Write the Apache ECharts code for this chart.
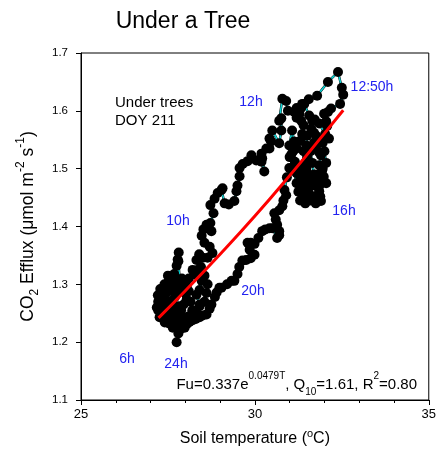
<!DOCTYPE html>
<html><head><meta charset="utf-8">
<script src="https://cdn.jsdelivr.net/npm/echarts@6/dist/echarts.min.js"></script>
<style>html,body{margin:0;padding:0;background:#fff}#c{width:439px;height:455px}</style>
</head><body><div id="c"></div>
<script>
// Soil temperature (°C) in measurement order, starting at 12:50h
const soilTemp = [
 32.54,32.45,32.19,32.10,31.99,32.05,32.08,32.13,32.02,31.85,31.72,31.65,31.56,31.42,31.33,31.28,31.20,31.33,31.40,31.36,
 31.30,31.13,31.07,30.99,31.05,31.15,31.30,31.36,31.33,31.36,31.42,31.48,31.50,31.48,31.50,31.48,31.50,31.62,31.70,31.76,
 31.76,31.85,31.90,31.85,31.93,31.98,32.05,31.95,31.85,31.85,
 31.75,31.70,31.65,31.60,31.70,31.80,31.95,32.00,32.05,31.95,31.80,31.70,31.60,31.55,31.45,31.40,31.20,31.10,31.00,31.10,
 31.20,31.25,31.30,31.45,31.60,31.75,31.88,31.90,
 31.70,31.55,31.42,31.30,31.20,31.05,30.99,30.92,30.85,30.90,30.82,30.79,30.70,30.56,30.60,30.64,30.70,30.70,30.64,30.50,
 30.42,30.30,30.21,30.10,29.99,29.88,29.79,29.85,29.99,29.88,29.75,29.64,29.55,29.50,29.41,29.33,29.20,
 29.04,28.98,28.90,28.85,28.75,28.70,28.61,28.50,28.41,28.30,28.21,28.12,28.04,27.98,27.92,27.85,27.80,27.75,
 27.78,27.70,27.64,27.55,27.48,27.41,27.35,27.30,27.26,27.22,27.18,27.22,27.21,27.28,27.35,27.42,27.50,27.55,27.62,27.70,
 27.78,27.85,27.95,28.04,28.10,28.04,27.95,27.88,27.80,27.72,27.65,27.58,27.50,27.42,27.35,27.28,
 27.40,27.50,27.60,27.70,27.90,28.00,28.15,28.20,28.10,27.95,27.85,27.60,27.45,27.30,27.24,
 27.30,27.38,27.45,27.52,27.61,27.68,27.75,27.78,27.81,27.80,27.84,27.92,28.00,28.10,28.21,28.27,28.35,28.41,28.47,28.41,
 28.32,28.41,28.32,28.41,28.55,28.61,28.64,28.55,28.45,28.32,28.40,28.50,28.64,28.78,28.70,28.55,28.47,28.52,28.61,28.75,
 28.72,28.81,28.72,28.84,28.93,29.04,29.07,29.13,29.25,29.41,29.47,29.50,29.56,29.56,29.65,29.79,29.90,30.04,30.19,30.21,
 30.27,30.19,30.33,30.42,30.42,30.47,30.50,30.70,30.76,30.76,30.70,30.79,30.90,30.95,31.13,31.20,31.36,31.55,31.79,32.10,
 32.39,32.50
];
// CO2 efflux (µmol m-2 s-1), same order
const co2Efflux = [
 1.628,1.612,1.604,1.598,1.595,1.582,1.574,1.552,1.560,1.578,1.585,1.583,1.592,1.612,1.605,1.595,1.588,1.583,1.575,1.560,
 1.548,1.547,1.566,1.540,1.525,1.512,1.500,1.492,1.478,1.458,1.449,1.462,1.480,1.500,1.520,1.540,1.557,1.569,1.562,1.557,
 1.535,1.528,1.523,1.506,1.496,1.486,1.475,1.480,1.470,1.461,
 1.470,1.490,1.510,1.530,1.545,1.550,1.545,1.530,1.510,1.500,1.490,1.480,1.470,1.490,1.510,1.530,1.535,1.530,1.520,1.500,
 1.475,1.460,1.445,1.440,1.445,1.440,1.452,1.444,
 1.452,1.458,1.470,1.480,1.492,1.500,1.501,1.485,1.463,1.454,1.445,1.435,1.428,1.423,1.412,1.403,1.392,1.385,1.380,1.397,
 1.397,1.395,1.392,1.380,1.370,1.372,1.372,1.360,1.351,1.345,1.342,1.341,1.330,1.318,1.306,1.306,1.300,
 1.294,1.294,1.286,1.278,1.265,1.258,1.248,1.246,1.243,1.240,1.238,1.235,1.231,1.225,1.232,1.222,1.215,1.200,
 1.231,1.240,1.225,1.232,1.240,1.234,1.245,1.250,1.243,1.255,1.260,1.270,1.281,1.292,1.286,1.275,1.270,1.262,1.270,1.278,
 1.285,1.292,1.300,1.296,1.288,1.274,1.265,1.255,1.262,1.255,1.248,1.252,1.258,1.262,1.268,1.272,
 1.300,1.315,1.290,1.300,1.310,1.285,1.270,1.255,1.245,1.240,1.250,1.262,1.285,1.275,1.265,
 1.280,1.295,1.300,1.305,1.308,1.318,1.332,1.343,1.355,1.340,1.306,1.295,1.300,1.310,1.325,1.317,1.325,1.323,1.306,1.290,
 1.282,1.265,1.250,1.262,1.270,1.285,1.300,1.315,1.330,1.342,1.352,1.346,1.346,1.354,1.365,1.372,1.384,1.395,1.403,1.392,
 1.406,1.423,1.437,1.448,1.458,1.463,1.466,1.440,1.438,1.444,1.461,1.471,1.487,1.501,1.508,1.513,1.523,1.514,1.526,1.518,
 1.495,1.512,1.535,1.535,1.552,1.547,1.566,1.544,1.566,1.587,1.583,1.621,1.617,1.600,1.598,1.605,1.612,1.620,1.626,1.650,
 1.667,1.640
];
// Fitted curve
const fitTemp   = [27.23, 28.0, 29.0, 30.0, 31.0, 32.0, 32.54];
const fitEfflux = [1.242, 1.289, 1.352, 1.418, 1.488, 1.561, 1.601];
// Axis ticks
const xTicks = [25, 30, 35];
const yTicks = [1.1, 1.2, 1.3, 1.4, 1.5, 1.6, 1.7];
// Texts
const titleText = 'Under a Tree';
const noteLines = ['Under trees', 'DOY 211'];
const hourLabels = ['12:50h', '12h', '10h', '16h', '20h', '24h', '6h'];
const formulaText = 'Fu=0.337e{sup|0.0479T}, Q{sub|10}=1.61, R{sup|2}=0.80';

const FONT = 'Liberation Sans, Arial, sans-serif';
const pts = soilTemp.map((t, i) => [t, co2Efflux[i]]);
const fit = fitTemp.map((t, i) => [t, fitEfflux[i]]);

const hourPos = [[372, 87], [251, 102], [178, 221], [344, 211], [253, 291], [176, 364], [127, 359]];

const chart = echarts.init(document.getElementById('c'), null, {renderer: 'canvas'});
const graphic = [
  {type: 'text', style: {text: titleText, x: 183, y: 22, align: 'center', verticalAlign: 'middle',
    fontSize: 23, fontFamily: FONT, fill: '#000'}},
  {type: 'text', style: {text: noteLines[0], x: 115, y: 103, align: 'left', verticalAlign: 'middle',
    fontSize: 15, fontFamily: FONT, fill: '#000'}},
  {type: 'text', style: {text: noteLines[1], x: 115, y: 121, align: 'left', verticalAlign: 'middle',
    fontSize: 15, fontFamily: FONT, fill: '#000'}},
  {type: 'text', z: 100, style: {text: formulaText, x: 417, y: 384.5, align: 'right', verticalAlign: 'middle',
    fontSize: 15, fontFamily: FONT, fill: '#000', lineHeight: 26,
    rich: {
      sup: {fontSize: 10, fontFamily: FONT, lineHeight: 10, verticalAlign: 'top', fill: '#000'},
      sub: {fontSize: 10, fontFamily: FONT, lineHeight: 19, verticalAlign: 'bottom', fill: '#000'}
    }}}
];
hourLabels.forEach((h, i) => {
  graphic.push({type: 'text', z: 100, style: {text: h, x: hourPos[i][0], y: hourPos[i][1], align: 'center',
    verticalAlign: 'middle', fontSize: 14, fontFamily: FONT, fill: '#2222f0'}});
});

chart.setOption({
  animation: false,
  backgroundColor: '#fff',
  grid: {left: 81, right: 9, top: 53, bottom: 52, show: true, borderColor: '#000', borderWidth: 1, backgroundColor: 'transparent'},
  xAxis: {
    type: 'value', min: xTicks[0], max: xTicks[xTicks.length - 1], interval: xTicks[1] - xTicks[0],
    name: 'Soil temperature ({sup|o}C)', nameLocation: 'middle', nameGap: 28,
    nameTextStyle: {fontSize: 16, fontFamily: FONT, color: '#000', lineHeight: 22,
      rich: {sup: {fontSize: 11, fontFamily: FONT, lineHeight: 11, verticalAlign: 'top', color: '#000'}}},
    axisLine: {show: true, lineStyle: {color: '#000', width: 1}},
    axisTick: {show: true, inside: false, length: 5, lineStyle: {color: '#000'}},
    minorTick: {show: true, splitNumber: 5, length: 3, lineStyle: {color: '#000'}},
    splitLine: {show: false},
    axisLabel: {fontSize: 13, fontFamily: FONT, color: '#000', margin: 8}
  },
  yAxis: {
    type: 'value', min: yTicks[0], max: yTicks[yTicks.length - 1], interval: 0.1,
    name: 'CO{sub|2} Efflux (μmol m{sup|-2} s{sup|-1})', nameLocation: 'middle', nameGap: 39, nameRotate: 90,
    nameTextStyle: {fontSize: 17.5, fontFamily: FONT, color: '#000', lineHeight: 26,
      rich: {
        sup: {fontSize: 12, fontFamily: FONT, lineHeight: 12, verticalAlign: 'top', color: '#000'},
        sub: {fontSize: 12, fontFamily: FONT, lineHeight: 20, verticalAlign: 'bottom', color: '#000'}
      }},
    axisLine: {show: true, lineStyle: {color: '#000', width: 1}},
    axisTick: {show: true, inside: false, length: 5, lineStyle: {color: '#000'}},
    splitLine: {show: false},
    axisLabel: {fontSize: 11.5, fontFamily: FONT, color: '#000', margin: 13, formatter: v => v.toFixed(1)}
  },
  series: [
    {type: 'line', data: pts, symbol: 'none', lineStyle: {color: '#000', width: 2.4}, z: 2, silent: true},
    {type: 'line', data: pts, symbol: 'none', lineStyle: {color: '#10d4d4', width: 1.6}, z: 3, silent: true},
    {type: 'scatter', data: pts, symbol: 'circle', symbolSize: 10, itemStyle: {color: '#000', opacity: 1}, z: 4},
    {type: 'line', data: fit, symbol: 'none', smooth: true, lineStyle: {color: '#ff0000', width: 3}, z: 5}
  ],
  graphic: graphic
});
</script>
</body></html>
